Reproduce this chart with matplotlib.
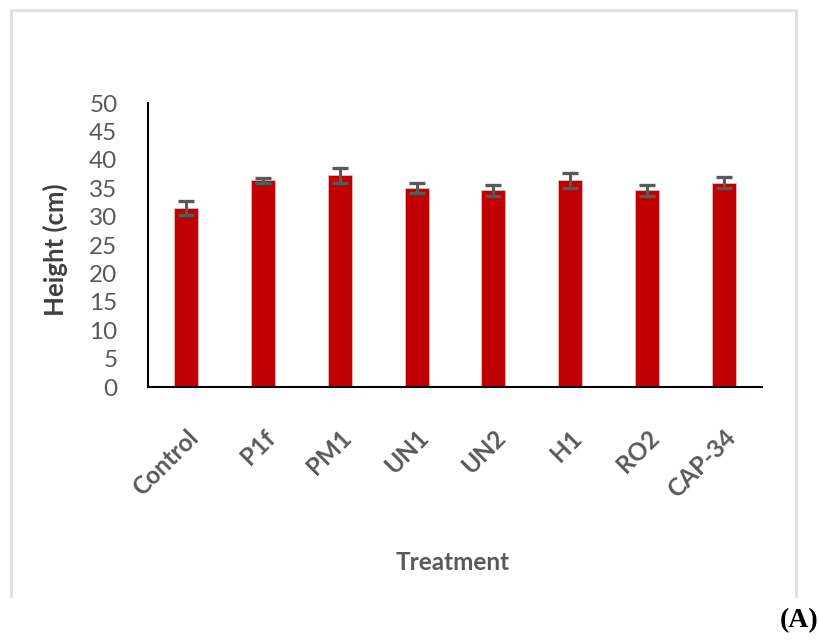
import matplotlib
matplotlib.use("Agg")
import matplotlib.pyplot as plt
from matplotlib.lines import Line2D

categories = ["Control", "P1f", "PM1", "UN1", "UN2", "H1", "RO2", "CAP-34"]
heights = [31.5, 36.4, 37.3, 35.1, 34.6, 36.4, 34.6, 36.0]
errors = [1.2, 0.45, 1.3, 0.9, 0.9, 1.3, 0.9, 0.9]
yticks = [0, 5, 10, 15, 20, 25, 30, 35, 40, 45, 50]

fig = plt.figure(figsize=(8.2, 6.44), dpi=100)
ax = fig.add_axes([148/820, 1-387/644, 614/820, 284/644])

x = list(range(len(categories)))
ax.bar(x, heights, width=0.31, color="#C00000", edgecolor="#f2b8b8", linewidth=0.6, zorder=2)
ax.errorbar(x, heights, yerr=errors, fmt="none", ecolor="#595959", elinewidth=2.2,
            capsize=6, capthick=2.4, zorder=3)

ax.set_xlim(-0.5, 7.5)
ax.set_ylim(0, 50)
ax.set_yticks(yticks)
ax.set_xticks(x)
ax.set_xticklabels(categories, rotation=45, ha="right", va="top", rotation_mode="anchor",
                   fontsize=17.5, color="#595959", family="Lato", fontweight="bold")
for lab in ax.get_yticklabels():
    lab.set_family("Lato")
ax.tick_params(axis="y", length=0, pad=22, labelsize=17.5, labelcolor="#595959")
ax.tick_params(axis="x", length=0, pad=28)
for s in ["top", "right"]:
    ax.spines[s].set_visible(False)
for s in ["left", "bottom"]:
    ax.spines[s].set_color("black")
    ax.spines[s].set_linewidth(1.5)

fig.text(55/820, 1-250/644, "Height (cm)", rotation=90, ha="center", va="center",
         fontsize=18.5, fontweight="bold", color="#404040", family="Lato")
fig.text(453/820, 1-563/644, "Treatment", ha="center", va="center",
         fontsize=17.5, color="#595959", family="Lato", fontweight="bold")
fig.text(819/820, 1-621/644, "(A)", ha="right", va="center",
         fontsize=20, fontweight="bold", color="black", family="Liberation Serif")

# outer light gray chart border (left, top, right)
bc = "#e0e0e0"
fig.add_artist(Line2D([11/820, 11/820], [1-596/644, 1-10/644], color=bc, lw=2, transform=fig.transFigure))
fig.add_artist(Line2D([11/820, 796/820], [1-10/644, 1-10/644], color=bc, lw=2, transform=fig.transFigure))
fig.add_artist(Line2D([796/820, 796/820], [1-596/644, 1-10/644], color=bc, lw=2, transform=fig.transFigure))

fig.savefig("out.png", dpi=100)
